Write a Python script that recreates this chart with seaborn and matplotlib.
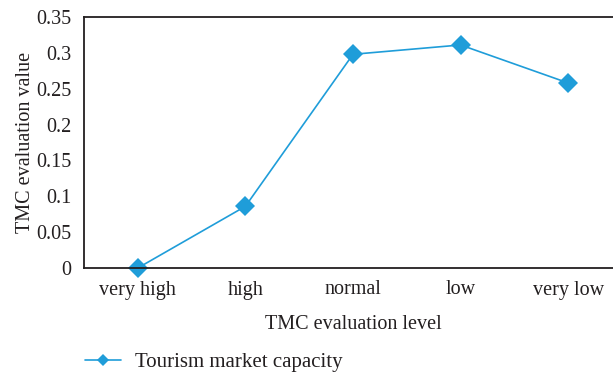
import pandas as pd
import numpy as np
import matplotlib
matplotlib.use("Agg")
import matplotlib.pyplot as plt
import seaborn as sns

# Data
levels = ["very high", "high", "normal", "low", "very low"]
tmc_values = [0.0, 0.086, 0.298, 0.311, 0.258]
series_name = "Tourism market capacity"

df = pd.DataFrame({"level": levels, "value": tmc_values, "series": series_name})

sns.set_style("white")
plt.rcParams['font.family'] = ['Liberation Serif', 'DejaVu Serif']
line_color = "#1f9dd9"
text_color = "#231f20"
fs = 14.5

fig = plt.figure(figsize=(6.13, 3.78), dpi=100)
ax = fig.add_axes([84 / 613, 110 / 378, 538 / 613, 251 / 378])

sns.lineplot(data=df, x="level", y="value", hue="series", palette=[line_color],
             marker="D", markersize=10, markeredgewidth=0, linewidth=1.2,
             sort=False, ax=ax, legend=False)
for ln in ax.lines:
    ln.set_clip_on(False)

ax.set_xlim(-0.5, 4.5)
ax.set_ylim(0, 0.35)
ax.set_yticks(np.arange(0, 0.351, 0.05))
ax.set_yticklabels(["0", "0.05", "0.1", "0.15", "0.2", "0.25", "0.3", "0.35"])
ax.tick_params(axis="both", length=0, labelsize=fs, labelcolor=text_color)
ax.tick_params(axis="x", pad=9)
ax.tick_params(axis="y", pad=9)

ax.set_xlabel("TMC evaluation level", fontsize=fs, color=text_color, labelpad=11)
ax.set_ylabel("TMC evaluation value", fontsize=fs, color=text_color, labelpad=1)

for side in ["left", "bottom", "top"]:
    ax.spines[side].set_color("#231f20")
    ax.spines[side].set_linewidth(1.3)
ax.spines["right"].set_visible(False)

handle = plt.Line2D([], [], color=line_color, marker="D", markersize=6,
                    markeredgewidth=0, linewidth=1.2)
fig.legend([handle], [series_name], loc="center left", bbox_to_anchor=(85 / 613, 16 / 378),
           frameon=False, fontsize=fs + 0.5, handlelength=1.75, handletextpad=0.65,
           borderpad=0, borderaxespad=0, labelcolor=text_color)

fig.savefig("out.png", dpi=100)
